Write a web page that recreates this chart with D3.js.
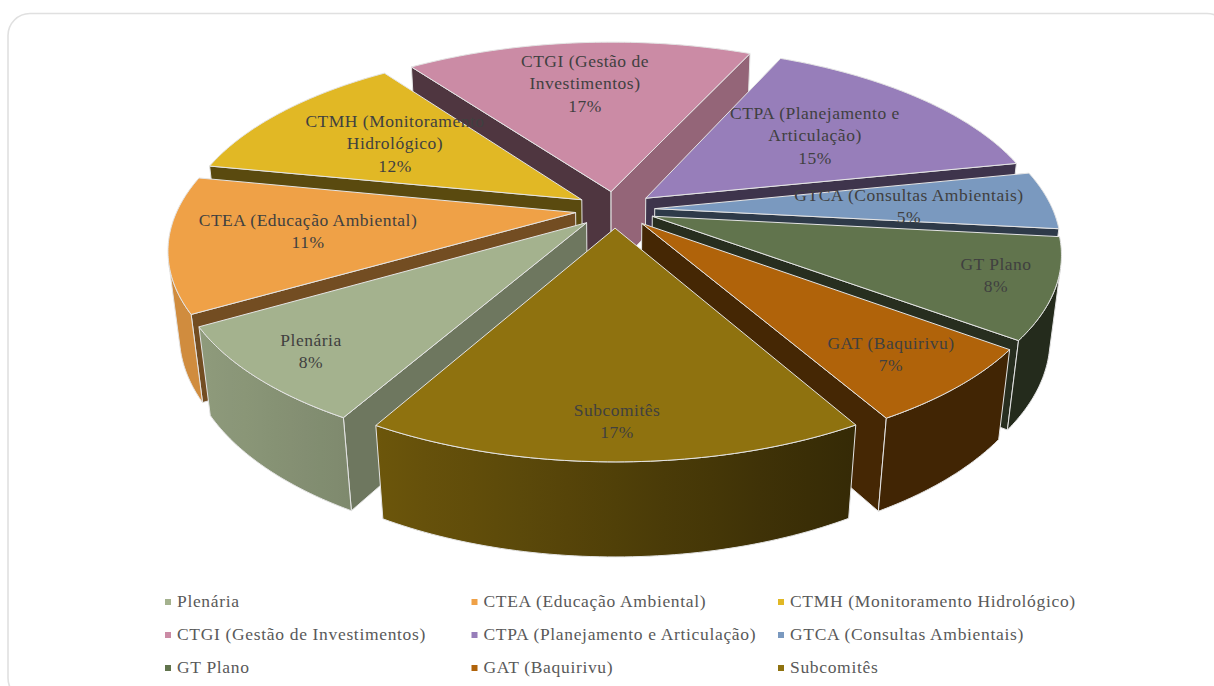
<!DOCTYPE html>
<html><head><meta charset="utf-8">
<script src="https://cdn.jsdelivr.net/npm/d3@7/dist/d3.min.js"></script>
<style>html,body{margin:0;padding:0;background:#fff;overflow:hidden}svg{display:block}
text{font-family:"Liberation Serif",serif}</style></head><body>
<script>
const categories = ["Plenária","CTEA (Educação Ambiental)","CTMH (Monitoramento Hidrológico)","CTGI (Gestão de Investimentos)","CTPA (Planejamento e Articulação)","GTCA (Consultas Ambientais)","GT Plano","GAT (Baquirivu)","Subcomitês"];
const values = [8.4,11.49,11.9,16.75,15,4.95,8.45,6.55,16.5];
const colors = ["#A4B28E","#EFA147","#E1B825","#CB8BA5","#977EBA","#7A99BF","#61744D","#B0630A","#8F720F"];
const labelLines = [["Plenária","8%"],["CTEA (Educação Ambiental)","11%"],["CTMH (Monitoramento","Hidrológico)","12%"],["CTGI (Gestão de","Investimentos)","17%"],["CTPA (Planejamento e","Articulação)","15%"],["GTCA (Consultas Ambientais)","5%"],["GT Plano","8%"],["GAT (Baquirivu)","7%"],["Subcomitês","17%"]];

// layout (not data)
const W=1214,H=686;
const labelPos=[[311,346],[308,226],[395,127],[585,67],[815,119],[909,201],[996,270],[891,349],[617,416]];
const cam={cx:615,cy:209.5,Rx:398,Ry:183,p:.184,q:.025,depth:84.5,explode:.1,start:209.6};
const startWall=[.67,.48,.40,.39,.41,.38,.40,.39,.39];
const endWall=[.67,.48,.40,.73,.41,.38,.40,.39,.39];
const outerLight=d3.scaleLinear().domain([200,380,850]).range([.87,.75,.37]).clamp(true);

const svg=d3.select("body").append("svg").attr("width",W).attr("height",H);
const defs=svg.append("defs");
svg.append("rect").attr("x",8).attr("y",13.5).attr("width",1221).attr("height",686.5).attr("rx",22)
  .attr("fill","#fff").attr("stroke","#e0e0e0").attr("stroke-width",1.6);

function project(u,v,z){const w=1-cam.p*v+cam.q*z;return [cam.cx+cam.Rx*u/w,cam.cy+(cam.Ry*v+cam.depth*z)/w];}
const shade=(c,f)=>{const r=d3.rgb(c);return d3.rgb(r.r*f,r.g*f,r.b*f).formatHex();};
const s0=cam.start*Math.PI/180;
const pie=d3.pie().sort(null).startAngle(s0).endAngle(s0+2*Math.PI);
const arcs=pie(values).map((d,i)=>{
  const mid=(d.startAngle+d.endAngle)/2;
  const ox=cam.explode*Math.sin(mid),oy=-cam.explode*Math.cos(mid);
  const ang=d3.range(0,61).map(k=>d.startAngle+(d.endAngle-d.startAngle)*k/60);
  const rim=z=>ang.map(a=>project(ox+Math.sin(a),oy-Math.cos(a),z));
  return {i,mid,apex:z=>project(ox,oy,z),rim,order:-Math.cos(mid)};
});
const line=d3.line().curve(d3.curveLinear);
const edge="#e4e4e4";
const g=svg.append("g");
const faces=q=>d3.polygonArea(q)<0;
arcs.slice().sort((a,b)=>a.order-b.order).forEach(s=>{
  const c=colors[s.i];
  const t=s.rim(0),b=s.rim(1);
  const poly=(pts,fill)=>g.append("path").attr("d",line(pts)+"Z").attr("fill",fill).attr("stroke",edge).attr("stroke-width",1).attr("stroke-linejoin","round");
  // radial walls, only the ones turned toward the viewer
  const wA=[s.apex(0),t[0],b[0],s.apex(1)],wB=[t[60],s.apex(0),s.apex(1),b[60]];
  if(!faces(wA)) poly(wA,shade(c,startWall[s.i]));
  if(!faces(wB)) poly(wB,shade(c,endWall[s.i]));
  // outer wall: only the front-facing run of the rim
  const vis=d3.range(0,60).filter(k=>!faces([t[k],t[k+1],b[k+1],b[k]]));
  if(vis.length){
    const k0=d3.min(vis),k1=d3.max(vis)+1;
    const tt=t.slice(k0,k1+1),bb=b.slice(k0,k1+1);
    const xs=tt.concat(bb).map(p=>p[0]),x0=d3.min(xs),x1=d3.max(xs),id="w"+s.i;
    const gr=defs.append("linearGradient").attr("id",id).attr("gradientUnits","userSpaceOnUse").attr("x1",x0).attr("x2",x1).attr("y1",0).attr("y2",0);
    d3.range(0,11).forEach(k=>gr.append("stop").attr("offset",k/10).attr("stop-color",shade(c,outerLight(x0+(x1-x0)*k/10))));
    poly(tt.concat(bb.slice().reverse()),`url(#${id})`);
  }
  poly([s.apex(0)].concat(t),c);
});
// data labels
const lh=22.3;
labelLines.forEach((ls,i)=>{
  ls.forEach((l,k)=>svg.append("text").attr("x",labelPos[i][0]).attr("y",labelPos[i][1]+k*lh)
    .attr("text-anchor","middle").attr("font-size",17.5).attr("letter-spacing",.5).attr("fill","#404040").text(l));
});
// legend
const legX=d3.scalePoint().domain([0,1,2]).range([177,790]);
const legY=d3.scalePoint().domain([0,1,2]).range([607,673]);
categories.forEach((n,i)=>{
  const cI=i%3,rI=Math.floor(i/3),x=legX(cI),y=legY(rI);
  svg.append("rect").attr("x",x-12).attr("y",y-8).attr("width",6).attr("height",6).attr("fill",colors[i]);
  svg.append("text").attr("x",x).attr("y",y).attr("font-size",17.5).attr("letter-spacing",.67).attr("fill","#595959").text(n);
});
</script></body></html>
